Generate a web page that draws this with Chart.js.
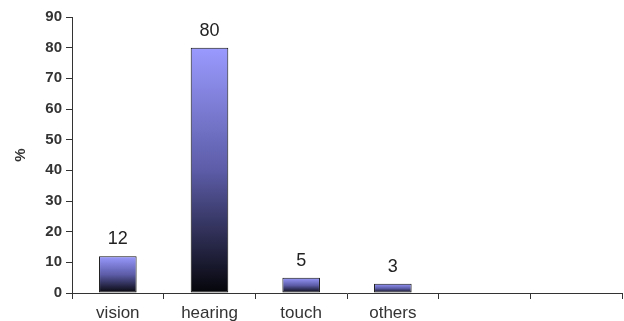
<!DOCTYPE html>
<html>
<head>
<meta charset="utf-8">
<script src="https://cdn.jsdelivr.net/npm/chart.js@4/dist/chart.umd.min.js"></script>
<style>
  html, body { margin: 0; padding: 0; background: #fff; }
  #wrap { width: 624px; height: 321px; }
</style>
</head>
<body>
<div id="wrap"><canvas id="chart"></canvas></div>
<script>
// data
const categories = ['vision', 'hearing', 'touch', 'others', '', ''];
const percents   = [12, 80, 5, 3, null, null];
const yTicks     = [0, 10, 20, 30, 40, 50, 60, 70, 80, 90];

// value labels above each bar
const valueLabels = {
  id: 'valueLabels',
  afterDatasetsDraw(chart) {
    const ctx = chart.ctx;
    const meta = chart.getDatasetMeta(0);
    ctx.save();
    ctx.font = '18px "Liberation Sans", Arial, sans-serif';
    ctx.fillStyle = '#222';
    ctx.textAlign = 'center';
    ctx.textBaseline = 'bottom';
    meta.data.forEach((bar, i) => {
      if (percents[i] == null) return;
      ctx.fillText(String(percents[i]), bar.x, bar.y - 8);
    });
    ctx.restore();
  }
};

// each bar goes light blue at the top down to black at the base
function barGradient(context) {
  const chart = context.chart;
  const y = chart.scales && chart.scales.y;
  const v = context.raw;
  if (!y || v == null) return '#7d7de0';
  const top = y.getPixelForValue(v);
  const base = y.getPixelForValue(0);
  if (!isFinite(top) || !isFinite(base) || top === base) return '#7d7de0';
  const g = chart.ctx.createLinearGradient(0, top, 0, base);
  g.addColorStop(0, '#9a9aff');
  g.addColorStop(0.5, '#5c5ca8');
  g.addColorStop(1, '#05050a');
  return g;
}

new Chart(document.getElementById('chart'), {
  type: 'bar',
  data: {
    labels: categories,
    datasets: [{
      data: percents,
      backgroundColor: barGradient,
      borderColor: '#111',
      borderWidth: 1,
      borderSkipped: false,
      categoryPercentage: 1,
      barPercentage: 0.41
    }]
  },
  options: {
    responsive: true,
    maintainAspectRatio: false,
    animation: false,
    layout: { padding: { top: 17, right: 2, left: 0, bottom: 0 } },
    plugins: {
      legend: { display: false },
      tooltip: { enabled: false }
    },
    scales: {
      x: {
        grid: {
          display: true,
          offset: true,
          drawOnChartArea: false,
          drawTicks: true,
          tickLength: 6,
          color: '#333'
        },
        border: { display: true, color: '#333', width: 1 },
        ticks: {
          color: '#333',
          padding: 4,
          font: { family: '"Liberation Sans", Arial, sans-serif', size: 17 }
        },
        afterFit(scale) { scale.height = 28; }
      },
      y: {
        min: 0,
        max: 90,
        afterBuildTicks(scale) { scale.ticks = yTicks.map(v => ({ value: v })); },
        grid: {
          display: true,
          drawOnChartArea: false,
          drawTicks: true,
          tickLength: 6,
          color: '#333'
        },
        border: { display: true, color: '#333', width: 1 },
        ticks: {
          color: '#333',
          padding: 4,
          font: { family: '"Liberation Sans", Arial, sans-serif', size: 15, weight: 'bold' }
        },
        title: {
          display: true,
          text: '%',
          color: '#333',
          padding: { top: 12, bottom: 0 },
          font: { family: '"Liberation Sans", Arial, sans-serif', size: 15, weight: 'bold' }
        },
        afterFit(scale) { scale.width = 72; }
      }
    }
  },
  plugins: [valueLabels]
});
</script>
</body>
</html>
